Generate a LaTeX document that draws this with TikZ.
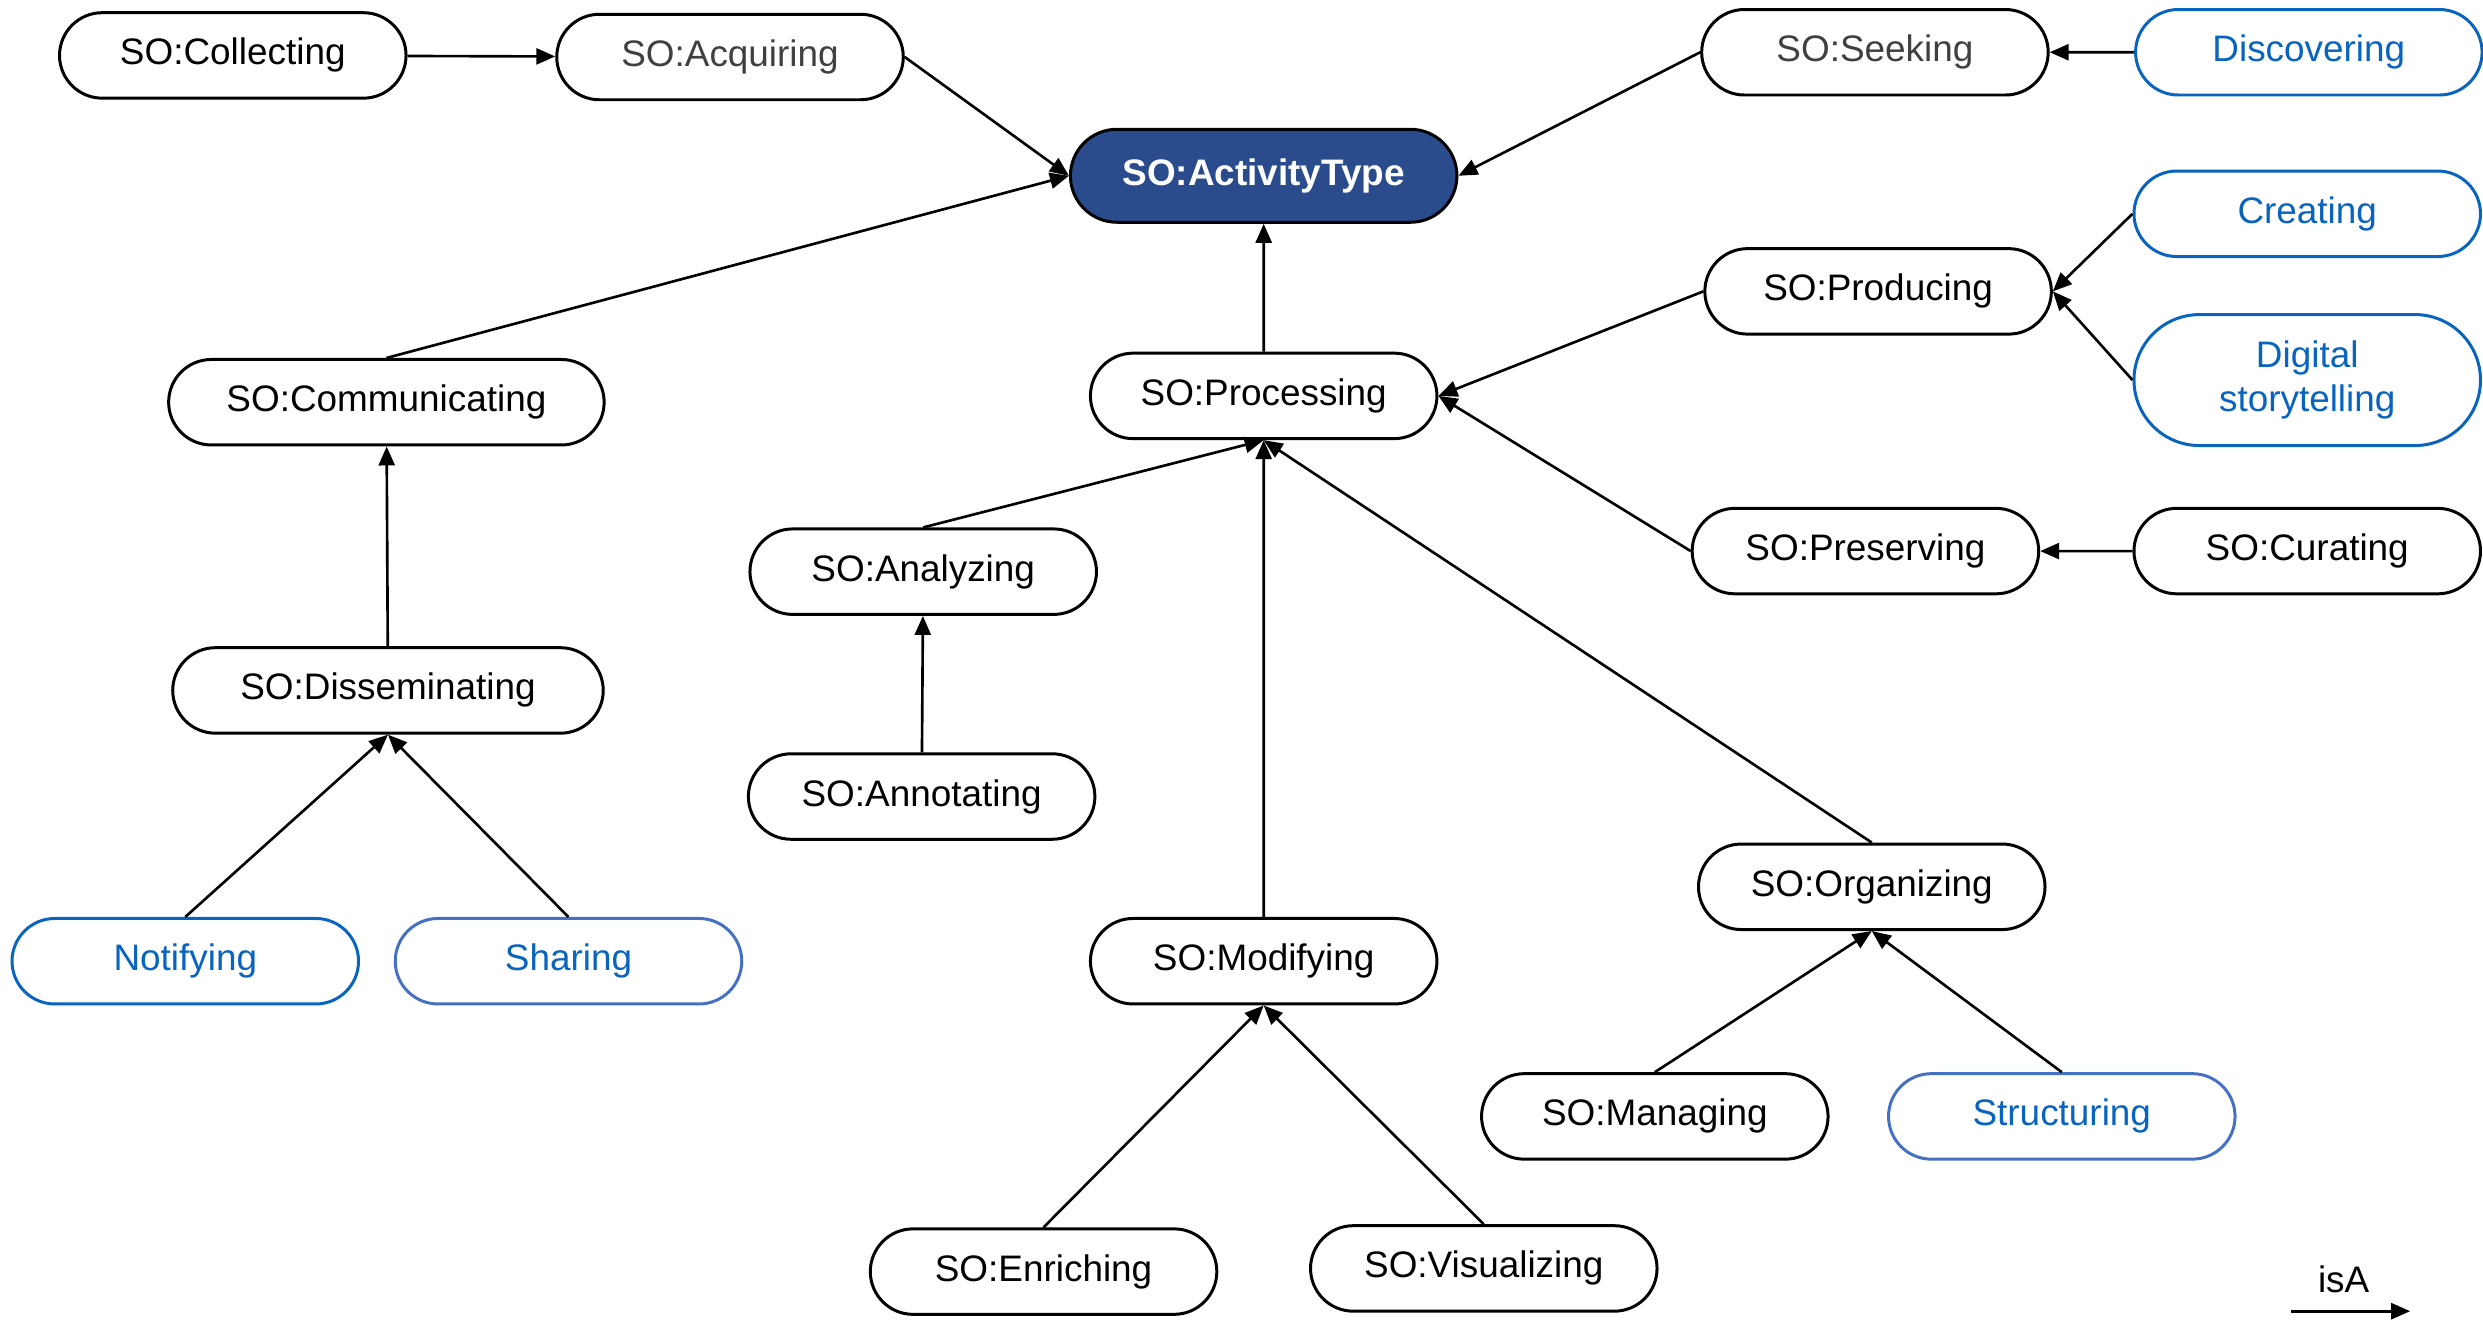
\documentclass[tikz,border=0pt]{standalone}
\usepackage{fontspec}
\setmainfont{Liberation Sans}
\usetikzlibrary{shapes.misc, arrows.meta, positioning}
\definecolor{soblue}{RGB}{8,100,190}
\definecolor{soblue2}{RGB}{70,112,196}
\definecolor{sodark}{RGB}{42,76,140}

\begin{document}
\begin{tikzpicture}[x=0.015835cm, y=-0.015835cm,
              soBlock/.style={
                rounded rectangle, line width=0.85pt, %inner sep=1pt,
                draw, minimum height=0.855cm, minimum width=3.7cm,
                font=\fontsize{10.5}{12.6}\selectfont
             },
              extBlock/.style={soBlock, draw=soblue, text=soblue},
              rootBlock/.style={soBlock, fill=sodark, text=white,
                minimum width=4.1cm, minimum height=0.93cm,
                font=\fontsize{10.5}{12.6}\selectfont\bfseries},
              isa/.style={-{Triangle[length=1.9mm, width=1.6mm]}, line width=0.75pt}
             ]
  \useasboundingbox (0,0) rectangle (1568,833);

  \node[rootBlock](act) at (798,111){SO:ActivityType};
  \node[soBlock](coll) at (147,35){SO:Collecting};
  \node[soBlock, text=black!75](acq) at (461,36){SO:Acquiring};
  \node[soBlock, text=black!75](seek) at (1184,33){SO:Seeking};
  \node[extBlock](disc) at (1458,33){Discovering};
  \node[extBlock](crea) at (1457,135){Creating};
  \node[soBlock](prod) at (1186,184){SO:Producing};
  \node[extBlock, minimum height=1.31cm, align=center](digi) at (1457,240){Digital\\storytelling};
  \node[soBlock](proc) at (798,250){SO:Processing};
  \node[soBlock, minimum width=4.59cm](comm) at (244,254){SO:Communicating};
  \node[soBlock](pres) at (1178,348){SO:Preserving};
  \node[soBlock](cura) at (1457,348){SO:Curating};
  \node[soBlock](anal) at (583,361){SO:Analyzing};
  \node[soBlock, minimum width=4.54cm](diss) at (245,436){SO:Disseminating};
  \node[soBlock](anno) at (582,503){SO:Annotating};
  \node[soBlock](orga) at (1182,560){SO:Organizing};
  \node[extBlock](noti) at (117,607){Notifying};
  \node[extBlock, draw=soblue2](shar) at (359,607){Sharing};
  \node[soBlock](modi) at (798,607){SO:Modifying};
  \node[soBlock](mana) at (1045,705){SO:Managing};
  \node[extBlock, draw=soblue2](stru) at (1302,705){Structuring};
  \node[soBlock](enri) at (659,803){SO:Enriching};
  \node[soBlock](visu) at (937,801){SO:Visualizing};

  \draw[isa] (coll) -- (acq);
  \draw[isa] (acq.east) -- (act.west);
  \draw[isa] (seek.west) -- (act.east);
  \draw[isa] (disc) -- (seek);
  \draw[isa] (comm.north) -- (act.west);
  \draw[isa] (proc) -- (act);
  \draw[isa] (prod.west) -- (proc.east);
  \draw[isa] (crea.west) -- (prod.east);
  \draw[isa] (digi.west) -- (prod.east);
  \draw[isa] (pres.west) -- (proc.east);
  \draw[isa] (cura) -- (pres);
  \draw[isa] (anal.north) -- (proc.south);
  \draw[isa] (anno) -- (anal);
  \draw[isa] (modi) -- (proc);
  \draw[isa] (orga.north) -- (proc.south);
  \draw[isa] (diss) -- (comm);
  \draw[isa] (noti.north) -- (diss.south);
  \draw[isa] (shar.north) -- (diss.south);
  \draw[isa] (mana.north) -- (orga.south);
  \draw[isa] (stru.north) -- (orga.south);
  \draw[isa] (enri.north) -- (modi.south);
  \draw[isa] (visu.north) -- (modi.south);

  % legend
  \coordinate (isaL) at (1447,828);
  \coordinate (isaR) at (1522,828);
  \draw[isa] (isaL) -- (isaR);
  \node[font=\fontsize{10.5}{12.6}\selectfont](isaText) at (1480,808){isA};
\end{tikzpicture}
\end{document}
